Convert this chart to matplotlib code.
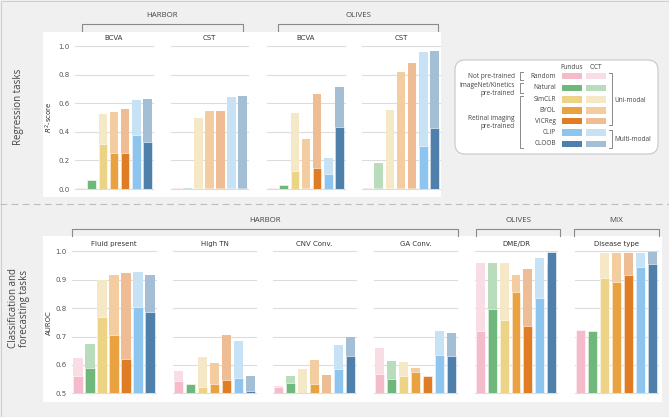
import matplotlib
matplotlib.use("Agg")
import matplotlib.pyplot as plt
from matplotlib.patches import Rectangle, FancyBboxPatch
import numpy as np

W, H = 669, 417

models = ["Random", "Natural", "SimCLR", "BYOL", "VICReg", "CLIP", "CLOOB"]
fundus_colors = ["#f4bccb", "#6fb77b", "#ecd386", "#e9a23f", "#e07d24", "#8ec5ee", "#4f7fab"]
oct_colors = ["#f9dde5", "#b8dcbc", "#f5e8c6", "#f3cc9f", "#efbd94", "#c7e1f5", "#a4bed5"]

# Regression tasks (R^2-score)
reg_groups = ["HARBOR", "OLIVES"]
reg_tasks = ["BCVA", "CST", "BCVA", "CST"]
reg_fundus = [
    [0.006, 0.066, 0.312, 0.250, 0.250, 0.378, 0.327],
    [0.004, 0.004, 0.004, 0.004, 0.004, 0.004, 0.004],
    [0.004, 0.028, 0.128, 0.004, 0.149, 0.107, 0.431],
    [0.004, 0.004, 0.004, 0.004, 0.004, 0.300, 0.430],
]
reg_oct = [
    [0.008, 0.000, 0.527, 0.541, 0.559, 0.620, 0.629],
    [0.006, 0.006, 0.497, 0.543, 0.545, 0.641, 0.650],
    [0.010, 0.000, 0.534, 0.350, 0.667, 0.217, 0.711],
    [0.006, 0.180, 0.550, 0.820, 0.878, 0.960, 0.965],
]

# Classification and forecasting tasks (AUROC)
cls_groups = ["HARBOR", "OLIVES", "MIX"]
cls_tasks = ["Fluid present", "High TN", "CNV Conv.", "GA Conv.", "DME/DR", "Disease type"]
cls_fundus = [
    [0.562, 0.590, 0.770, 0.706, 0.622, 0.805, 0.786],
    [0.542, 0.534, 0.523, 0.533, 0.547, 0.555, 0.509],
    [0.523, 0.537, 0.495, 0.532, 0.495, 0.584, 0.632],
    [0.569, 0.550, 0.562, 0.574, 0.561, 0.635, 0.630],
    [0.718, 0.798, 0.757, 0.858, 0.738, 0.837, 0.997],
    [0.723, 0.718, 0.905, 0.893, 0.918, 0.946, 0.957],
]
cls_oct = [
    [0.625, 0.674, 0.899, 0.918, 0.923, 0.927, 0.918],
    [0.577, 0.520, 0.629, 0.606, 0.705, 0.683, 0.560],
    [0.527, 0.561, 0.584, 0.617, 0.565, 0.670, 0.697],
    [0.661, 0.613, 0.610, 0.588, 0.550, 0.718, 0.713],
    [0.958, 0.958, 0.958, 0.918, 0.938, 0.976, 0.950],
    [0.700, 0.700, 0.994, 0.994, 0.994, 0.994, 0.996],
]

AX_FONT = "DejaVu Sans"
TXT_FONT = ["Open Sans", "DejaVu Sans"]
TXT_COL = "#444444"


def rect(L, T, R, B):
    return [L / W, 1 - B / H, (R - L) / W, (B - T) / H]


fig = plt.figure(figsize=(W / 100, H / 100), dpi=100, facecolor="#f0f0f0")

# background / annotation axes
bg = fig.add_axes([0, 0, 1, 1], zorder=0)
bg.set_xlim(0, W)
bg.set_ylim(H, 0)
bg.axis("off")
bg.patch.set_alpha(0)

bg.add_patch(Rectangle((0.5, 0.5), W - 1, H - 1, fill=False, ec="#cfcfcf", lw=0.8))
bg.add_patch(Rectangle((43, 32), 398, 165, fc="white", ec="none"))
bg.add_patch(Rectangle((43, 236), 619, 166, fc="white", ec="none"))
bg.plot([0, W], [204, 204], color="#bdbdbd", lw=0.8, dashes=(6, 4))

bg.text(19, 107, "Regression tasks", rotation=90, ha="center", va="center",
        fontsize=7, color=TXT_COL, family=TXT_FONT)
bg.text(19, 308, "Classification and\nforecasting tasks", rotation=90, ha="center",
        va="center", fontsize=7, color=TXT_COL, family=TXT_FONT, linespacing=1.1)


def bracket(x0, x1, y, drop, label, ly):
    bg.plot([x0, x0, x1, x1], [y + drop, y, y, y + drop], color="#8a8a8a", lw=0.8)
    bg.text((x0 + x1) / 2, ly, label, ha="center", va="center", fontsize=5.7,
            color=TXT_COL, family=TXT_FONT)


bracket(82, 243, 24, 7, reg_groups[0], 15)
bracket(278, 438, 24, 7, reg_groups[1], 15)
bracket(72, 458, 229, 7, cls_groups[0], 220)
bracket(476, 560, 229, 7, cls_groups[1], 220)
bracket(574, 659, 229, 7, cls_groups[2], 220)


def draw_bars(ax, f_vals, o_vals):
    x = np.arange(len(models))
    ax.bar(x, o_vals, width=0.76, color=oct_colors, zorder=2)
    ax.bar(x, f_vals, width=0.76, color=fundus_colors, edgecolor="white",
           linewidth=0.4, zorder=3)
    ax.set_xlim(-0.5, len(models) - 0.5)


def style_ax(ax, title, show_labels, yticks, ylabel):
    ax.set_facecolor("none")
    for s in ax.spines.values():
        s.set_visible(False)
    ax.set_xticks([])
    ax.set_yticks(yticks)
    ax.yaxis.grid(True, color="#dcdcdc", lw=0.8)
    for gl in ax.get_ygridlines():
        gl.set_clip_on(False)
    ax.set_axisbelow(True)
    ax.tick_params(axis="y", length=0, labelsize=5, labelcolor="#555555", pad=4)
    if show_labels:
        ax.set_yticklabels([f"{t:.1f}" for t in yticks], family=AX_FONT)
        ax.set_ylabel(ylabel, fontsize=5, color="#333333", labelpad=2, family=AX_FONT)
    else:
        ax.set_yticklabels([])
    ax.set_title(title, fontsize=5, color="#333333", pad=4, family=AX_FONT)


# top row
top_lr = [(75, 153), (171, 248), (267, 345), (362, 440)]
for i, (L, R) in enumerate(top_lr):
    ax = fig.add_axes(rect(L, 46, R, 189), zorder=1)
    draw_bars(ax, reg_fundus[i], reg_oct[i])
    ax.set_ylim(0, 1.0)
    style_ax(ax, reg_tasks[i], i == 0, np.arange(0, 1.01, 0.2), "$R^2$-score")

# bottom row
bot_lr = [(72, 156), (173, 256), (273, 356), (374, 457), (475, 557), (575, 658)]
for i, (L, R) in enumerate(bot_lr):
    ax = fig.add_axes(rect(L, 251.3, R, 393.3), zorder=1)
    draw_bars(ax, cls_fundus[i], cls_oct[i])
    ax.set_ylim(0.5, 1.0)
    style_ax(ax, cls_tasks[i], i == 0, np.arange(0.5, 1.01, 0.1), "AUROC")

# legend
lg = fig.add_axes([0, 0, 1, 1], zorder=2)
lg.set_xlim(0, W)
lg.set_ylim(H, 0)
lg.axis("off")
lg.patch.set_alpha(0)
lg.add_patch(FancyBboxPatch((455, 60), 203, 94, boxstyle="round,pad=0,rounding_size=10",
                            fc="white", ec="#c8c8c8", lw=0.8))
LFS = 4.7
row_y = [76, 87.7, 99.3, 110.5, 121, 132.3, 143.7]
lg.text(571.7, 67, "Fundus", ha="center", va="center", fontsize=LFS, color=TXT_COL, family=TXT_FONT)
lg.text(596, 67, "OCT", ha="center", va="center", fontsize=LFS, color=TXT_COL, family=TXT_FONT)
for k, m in enumerate(models):
    y = row_y[k]
    lg.text(556, y, m, ha="right", va="center", fontsize=LFS, color=TXT_COL, family=TXT_FONT)
    lg.add_patch(Rectangle((561.7, y - 3.2), 20, 6.4, fc=fundus_colors[k], ec="none"))
    lg.add_patch(Rectangle((586, y - 3.2), 20, 6.4, fc=oct_colors[k], ec="none"))


def lbracket(x, y0, y1, label, ly):
    lg.plot([x + 2.5, x, x, x + 2.5], [y0, y0, y1, y1], color="#8a8a8a", lw=0.7)
    lg.text(x - 5, ly, label, ha="right", va="center", fontsize=LFS, color=TXT_COL,
            family=TXT_FONT, linespacing=1.05, multialignment="right")


def rbracket(x, y0, y1, label, ly):
    lg.plot([x - 2.5, x, x, x - 2.5], [y0, y0, y1, y1], color="#8a8a8a", lw=0.7)
    lg.text(x + 3, ly, label, ha="left", va="center", fontsize=LFS, color=TXT_COL,
            family=TXT_FONT)


lbracket(520, 72.3, 80, "Not pre-trained", 76)
lbracket(520, 83, 93.3, "ImageNet/Kinetics\npre-trained", 89.5)
lbracket(520, 96, 148, "Retinal imaging\npre-trained", 122.5)
rbracket(611.5, 73.3, 125, "Uni-modal", 100.5)
rbracket(611.5, 130, 148.3, "Multi-modal", 139.3)

fig.savefig("out.png", dpi=100, facecolor=fig.get_facecolor())
